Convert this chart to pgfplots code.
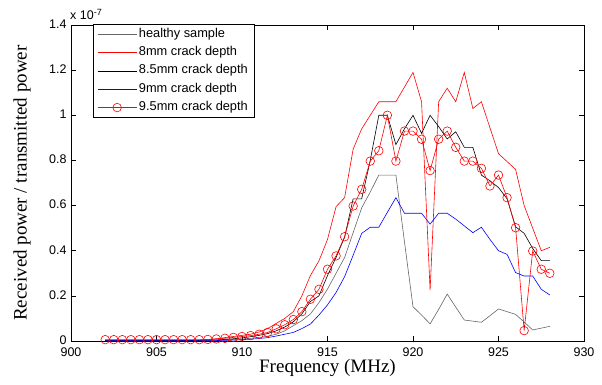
\documentclass[border=0pt]{standalone}
\usepackage{fontspec}
\setmainfont{Liberation Serif}
\newfontfamily\arial{Liberation Sans}
\usepackage{pgfplots}
\pgfplotsset{compat=1.18}
\definecolor{healthy}{rgb}{0.4,0.4,0.4}
\begin{document}
\begin{tikzpicture}[x=1pt,y=1pt]
\useasboundingbox (0,0) rectangle (602,384);
\begin{axis}[
  at={(71pt,43pt)}, anchor=south west,
  scale only axis, width=513pt, height=316pt,
  xmin=900, xmax=930, ymin=0, ymax=1.4,
  xtick={900,905,910,915,920,925,930},
  ytick={0,0.2,0.4,0.6,0.8,1,1.2,1.4},
  yticklabels={0,0.2,0.4,0.6,0.8,1,1.2,1.4},
  xticklabels={900,905,910,915,920,925,930},
  tick align=inside, tick pos=both,
  xticklabel pos=lower, yticklabel pos=left,
  major tick length=5pt,
  tick style={black, line width=0.6pt},
  axis line style={black, line width=0.9pt},
  ticklabel style={font=\arial\fontsize{12.5}{14}\selectfont, inner sep=0.8pt},
  xticklabel style={yshift=-5.5pt},
  yticklabel style={xshift=-3.4pt, yshift=1pt},
  /pgf/number format/assume math mode=true,
  xlabel={Frequency (MHz)},
  ylabel={Received power / transmitted power},
  label style={font=\fontsize{19}{22}\selectfont},
  xlabel style={at={(axis description cs:0.5,-0.085)}, anchor=center},
  ylabel style={at={(axis description cs:-0.0955,0.5)}, anchor=center},
  legend cell align=left,
  legend style={at={(axis description cs:0.043,1.003)}, anchor=north west,
    draw=black, line width=0.6pt, fill=white,
    font=\arial\fontsize{12.8}{14}\selectfont,
    inner xsep=4pt, inner ysep=2pt, row sep=2.3pt,
    nodes={inner sep=2pt, text height=9pt, text depth=3pt}},
  legend image code/.code={\draw[mark repeat=2,mark phase=2,#1] plot coordinates {(0pt,0pt) (19.5pt,0pt) (39pt,0pt)};},
  every axis plot/.append style={line width=0.6pt},
]
% healthy sample
\addplot[healthy, no markers] coordinates {
(902,0.001)(902.5,0.001)(903,0.001)(903.5,0.001)(904,0.001)(904.5,0.001)(905,0.001)(905.5,0.001)(906,0.001)(906.5,0.002)
(907,0.002)(907.5,0.003)(908,0.003)(908.5,0.004)(909,0.005)(909.5,0.007)(910,0.009)(910.5,0.012)(911,0.016)(911.5,0.021)
(912,0.030)(912.5,0.045)(913,0.068)(913.5,0.090)(914,0.120)(914.5,0.170)(915,0.230)(915.5,0.300)(916,0.370)(916.5,0.480)
(917,0.590)(917.5,0.660)(918,0.735)(918.5,0.735)(919,0.735)(919.5,0.440)(920,0.152)(920.5,0.115)(921,0.076)(921.5,0.140)
(922,0.208)(922.5,0.150)(923,0.093)(923.5,0.088)(924,0.083)(924.5,0.112)(925,0.142)(925.5,0.130)(926,0.118)(926.5,0.084)
(927,0.049)(927.5,0.057)(928,0.065)};
\addlegendentry{healthy sample}
% 8mm
\addplot[red, no markers] coordinates {
(902,0.002)(902.5,0.002)(903,0.002)(903.5,0.002)(904,0.002)(904.5,0.002)(905,0.002)(905.5,0.002)(906,0.002)(906.5,0.002)
(907,0.003)(907.5,0.004)(908,0.006)(908.5,0.010)(909,0.015)(909.5,0.020)(910,0.025)(910.5,0.030)(911,0.040)(911.5,0.055)
(912,0.078)(912.5,0.100)(913,0.130)(913.5,0.200)(914,0.290)(914.5,0.355)(915,0.450)(915.5,0.595)(916,0.635)(916.5,0.850)
(917,0.940)(917.5,1.000)(918,1.060)(918.5,1.060)(919,1.060)(919.5,1.125)(920,1.190)(920.5,1.060)(921,0.225)(921.5,1.060)
(922,1.120)(922.5,1.060)(923,1.190)(923.5,1.030)(924,1.060)(924.5,0.945)(925,0.830)(925.5,0.795)(926,0.760)(926.5,0.600)
(927,0.500)(927.5,0.400)(928,0.415)};
\addlegendentry{8mm crack depth}
% 8.5mm
\addplot[black, no markers] coordinates {
(902,0.002)(902.5,0.002)(903,0.002)(903.5,0.002)(904,0.002)(904.5,0.002)(905,0.002)(905.5,0.002)(906,0.002)(906.5,0.002)
(907,0.002)(907.5,0.003)(908,0.004)(908.5,0.005)(909,0.007)(909.5,0.010)(910,0.014)(910.5,0.019)(911,0.025)(911.5,0.033)
(912,0.045)(912.5,0.062)(913,0.085)(913.5,0.120)(914,0.175)(914.5,0.200)(915,0.290)(915.5,0.370)(916,0.460)(916.5,0.630)
(917,0.630)(917.5,0.800)(918,1.000)(918.5,1.000)(919,0.870)(919.5,0.940)(920,1.000)(920.5,0.920)(921,1.000)(921.5,0.950)
(922,0.895)(922.5,0.927)(923,0.858)(923.5,0.858)(924,0.735)(924.5,0.710)(925,0.680)(925.5,0.630)(926,0.506)(926.5,0.477)
(927,0.410)(927.5,0.356)(928,0.356)};
\addlegendentry{8.5mm crack depth}
% 9mm
\addplot[blue, no markers] coordinates {
(902,0.001)(902.5,0.001)(903,0.001)(903.5,0.001)(904,0.001)(904.5,0.001)(905,0.001)(905.5,0.001)(906,0.001)(906.5,0.001)
(907,0.001)(907.5,0.002)(908,0.002)(908.5,0.002)(909,0.003)(909.5,0.004)(910,0.006)(910.5,0.008)(911,0.011)(911.5,0.015)
(912,0.022)(912.5,0.030)(913,0.038)(913.5,0.055)(914,0.075)(914.5,0.115)(915,0.160)(915.5,0.215)(916,0.285)(916.5,0.380)
(917,0.477)(917.5,0.504)(918,0.504)(918.5,0.570)(919,0.635)(919.5,0.566)(920,0.566)(920.5,0.566)(921,0.518)(921.5,0.566)
(922,0.566)(922.5,0.540)(923,0.510)(923.5,0.480)(924,0.504)(924.5,0.450)(925,0.400)(925.5,0.384)(926,0.303)(926.5,0.288)
(927,0.288)(927.5,0.229)(928,0.204)};
\addlegendentry{9mm crack depth}
% 9.5mm
\addplot[red, mark=o, mark size=4.3pt, mark options={solid, fill=none, line width=0.6pt}] coordinates {
(902,0.006)(902.5,0.006)(903,0.006)(903.5,0.006)(904,0.006)(904.5,0.006)(905,0.006)(905.5,0.006)(906,0.006)(906.5,0.006)
(907,0.006)(907.5,0.006)(908,0.007)(908.5,0.009)(909,0.012)(909.5,0.016)(910,0.020)(910.5,0.024)(911,0.030)(911.5,0.038)
(912,0.054)(912.5,0.072)(913,0.095)(913.5,0.130)(914,0.185)(914.5,0.229)(915,0.318)(915.5,0.377)(916,0.462)(916.5,0.598)
(917,0.672)(917.5,0.797)(918,0.843)(918.5,1.000)(919,0.797)(919.5,0.930)(920,0.930)(920.5,0.894)(921,0.755)(921.5,0.894)
(922,0.930)(922.5,0.858)(923,0.797)(923.5,0.797)(924,0.765)(924.5,0.687)(925,0.735)(925.5,0.635)(926,0.502)(926.5,0.046)
(927,0.399)(927.5,0.318)(928,0.300)};
\addlegendentry{9.5mm crack depth}
\end{axis}
\node[anchor=base west, inner sep=0pt, font=\arial\fontsize{12.5}{14}\selectfont] at (70pt,364pt) {x 10\raisebox{5pt}{\fontsize{9}{10}\selectfont -7}};
\end{tikzpicture}
\end{document}
